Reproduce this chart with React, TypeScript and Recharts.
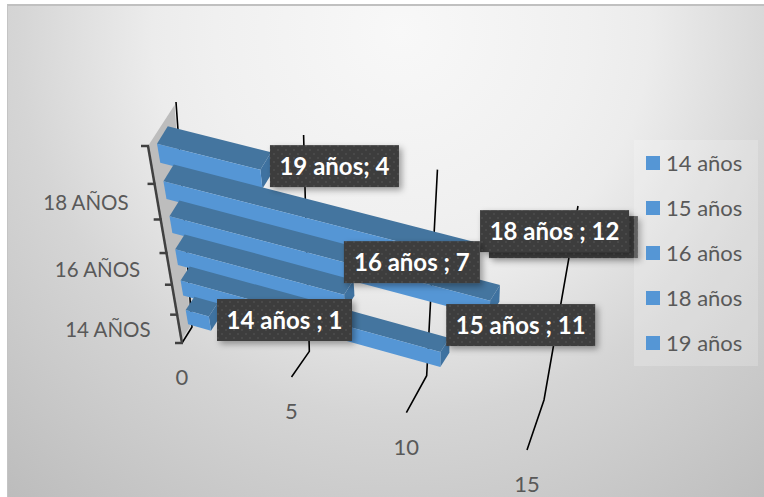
import React from 'react';
import { Bar, BarChart, CartesianGrid, LabelList, Legend, XAxis, YAxis } from 'recharts';

const ageGroups = ['19 años', '18 años', '17 años', '16 años', '15 años', '14 años'];
const counts = [4, 12, 13, 7, 11, 1];
const labelSeparators = ['; ', ' ; ', ' ; ', ' ; ', ' ; ', ' ; '];
const valueTicks = [0, 5, 10, 15];
const ageTicks = ['18 años', '16 años', '14 años'];
const legendNames = ['14 años', '15 años', '16 años', '18 años', '19 años'];

const data = ageGroups.map((age, i) => ({ age, count: counts[i] }));

const WIDTH = 764;
const HEIGHT = 497;
// the axes keep one pixel each, the plot fills the rest
const PLOT_LEFT = 1;
const PLOT_W = WIDTH - 1;
const PLOT_H = HEIGHT - 1;
const MAX_VALUE = 15;
const FONT = 'Lato, "Open Sans", sans-serif';

const lerp = (a: number, b: number, t: number) => a + (b - a) * t;
const lerpPt = (a: number[], b: number[], t: number) => [lerp(a[0], b[0], t), lerp(a[1], b[1], t)];

// perspective along the category axis, the rows get narrower towards the bottom
const axisT = (v: number) => (v * 1.19) / (1 + 0.19 * v);
const axisPoint = (py: number) => lerpPt([148, 146], [182, 343], axisT(py / PLOT_H));

// plot pixels -> front plane of the 3D bars
const project = (px: number, py: number) => {
  const t = axisT(py / PLOT_H);
  const [ax, ay] = axisPoint(py);
  const value = ((px - PLOT_LEFT) / PLOT_W) * MAX_VALUE;
  return [ax + 7.3 + value * (26 - 3.2 * t), ay - 12 + value * 6.5];
};

const depthAt = (py: number) => lerpPt([11, -18], [8.5, -13], axisT(py / PLOT_H));

const poly = (pts: number[][]) => pts.map((p) => p.join(',')).join(' ');

const Bar3D = ({ x, y, width, height }: any) => {
  const d = depthAt(y + height / 2);
  const back = (p: number[]) => [p[0] + d[0], p[1] + d[1]];
  const tl = project(x, y);
  const tr = project(x + width, y);
  const bl = project(x, y + height);
  const br = project(x + width, y + height);
  return (
    <g>
      <polygon points={poly([tl, tr, back(tr), back(tl)])} fill="#44759f" />
      <polygon points={poly([tr, br, back(br), back(tr)])} fill="#3f72a0" />
      <polygon points={poly([tl, tr, br, bl])} fill="#5596d5" />
    </g>
  );
};

const valueFrontPoint = (px: number) => {
  const u = (px - PLOT_LEFT) / PLOT_W;
  return lerpPt([182, 343], [527, 450], (u * 0.93) / (1 - 0.07 * u));
};

// each value line runs along the floor, then up the back wall
const ValueLine = ({ x1 }: any) => {
  const u = (x1 - PLOT_LEFT) / PLOT_W;
  const s = (u * 0.93) / (1 - 0.07 * u);
  const floor = lerpPt([192, 327], [544, 400], u);
  const top = lerpPt([176, 102], [578, 206], s);
  return (
    <polyline
      key={x1}
      points={poly([valueFrontPoint(x1), floor, top])}
      fill="none"
      stroke="#000"
      strokeWidth={1.6}
    />
  );
};

const ValueTick = ({ x, payload }: any) => {
  const front = valueFrontPoint(x);
  return (
    <text x={front[0]} y={front[1] + 42} textAnchor="middle" fontSize={22} fontFamily={FONT} fill="#595959">
      {payload.value}
    </text>
  );
};

const AgeTick = ({ y, payload }: any) => {
  const [ax, ay] = axisPoint(y);
  return (
    <text x={ax - 29} y={ay + 8} textAnchor="end" fontSize={20.5} fontFamily={FONT} fill="#595959">
      {payload.value.toUpperCase()}
    </text>
  );
};

const AxisFrame = () => {
  const bandEdges = ageGroups.map((_, i) => (i * PLOT_H) / ageGroups.length).concat(PLOT_H);
  const first = axisPoint(0);
  const last = axisPoint(PLOT_H);
  return (
    <g>
      {/* side wall, pulled in a little so the zero line stays visible along its edge */}
      <polygon points={poly([first, [174.6, 105], [190.4, 326], [180.5, 341]])} fill="#bdbdbd" />
      <line x1={first[0]} y1={first[1]} x2={last[0]} y2={last[1]} stroke="#404040" strokeWidth={2.5} />
      {bandEdges.map((py) => {
        const [ax, ay] = axisPoint(py);
        return <line key={py} x1={ax - 7} y1={ay} x2={ax + 1} y2={ay} stroke="#404040" strokeWidth={2.5} />;
      })}
    </g>
  );
};

// label box relative to the bar end: dx, dy, box width
const labelBoxes: Record<string, number[]> = {
  '19 años': [9.6, -24.7, 129],
  '18 años': [13.8, -49, 149],
  '17 años': [-1.2, -84.6, 149],
  '16 años': [-0.2, -53.6, 136],
  '15 años': [5.8, -47.9, 149],
  '14 años': [8.2, -17.5, 135],
};

const renderLabels = (rows: string[], withText: boolean) => (props: any) => {
  const { x, y, width, index } = props;
  const age = ageGroups[index];
  if (!rows.includes(age)) return null;
  const [ex, ey] = project(x + width, y);
  const [dx, dy, w] = labelBoxes[age];
  return (
    <g>
      <rect x={ex + dx} y={ey + dy} width={w} height={42} fill="url(#labelDots)" filter="url(#labelShadow)" />
      {withText && (
        <text
          x={ex + dx + w / 2}
          y={ey + dy + 30}
          textAnchor="middle"
          fontSize={24}
          fontWeight={700}
          fontFamily={FONT}
          fill="#fff"
        >
          {`${age}${labelSeparators[index]}${counts[index]}`}
        </text>
      )}
    </g>
  );
};

const LegendPanel = () => (
  <div style={{ width: 124, height: 226, background: 'rgba(255,255,255,0.2)' }}>
    {legendNames.map((name) => (
      <div key={name} style={{ display: 'flex', alignItems: 'center', height: 45, paddingLeft: 12 }}>
        <span style={{ width: 14, height: 14, background: '#5596d5', marginRight: 6 }} />
        <span style={{ fontSize: 22, fontFamily: FONT, color: '#595959' }}>{name}</span>
      </div>
    ))}
  </div>
);

export default function App() {
  return (
    <div style={{ position: 'absolute', left: 0, top: 0, width: WIDTH, height: HEIGHT }}>
      <div
        style={{
          position: 'absolute',
          left: 7,
          top: 4,
          right: 0,
          bottom: 0,
          background:
            'radial-gradient(circle 620px at 393px 26px, #f8f8f8 0%, #f0f0f0 30%, #ececec 40%, #d5d5d5 62%, #bbbbbb 100%)',
          borderTop: '2px solid #c0c0c0',
          borderLeft: '1px solid #c4c4c4',
        }}
      />
      <BarChart
        width={WIDTH}
        height={HEIGHT}
        data={data}
        layout="vertical"
        barSize={PLOT_H / ageGroups.length / 2}
        margin={{ top: 0, right: 0, bottom: 0, left: 0 }}
        style={{ position: 'absolute', left: 0, top: 0 }}
      >
        <defs>
          <pattern id="labelDots" width={8} height={8} patternUnits="userSpaceOnUse">
            <rect width={8} height={8} fill="#3e3e3e" />
            <circle cx={2} cy={2} r={1} fill="#4c4c4c" />
            <circle cx={6} cy={6} r={1} fill="#4c4c4c" />
          </pattern>
          <filter id="labelShadow" x="-10%" y="-20%" width="125%" height="150%">
            <feDropShadow dx={3} dy={3} stdDeviation={3} floodColor="#000" floodOpacity={0.35} />
          </filter>
        </defs>
        <AxisFrame />
        <CartesianGrid horizontal={false} vertical={ValueLine} syncWithTicks />
        <XAxis
          type="number"
          domain={[0, MAX_VALUE]}
          ticks={valueTicks}
          interval={0}
          height={1}
          axisLine={false}
          tickLine={false}
          tick={ValueTick}
        />
        <YAxis
          type="category"
          dataKey="age"
          ticks={ageTicks}
          interval={0}
          width={1}
          axisLine={false}
          tickLine={false}
          tick={AgeTick}
        />
        <Legend
          layout="horizontal"
          verticalAlign="middle"
          align="center"
          content={LegendPanel}
          wrapperStyle={{ position: 'absolute', left: 634, top: 140, width: 124 }}
        />
        <Bar dataKey="count" shape={Bar3D} isAnimationActive={false}>
          {/* the 17 años box sits fully behind its neighbours, only its edge shows */}
          <LabelList dataKey="count" content={renderLabels(['17 años'], false)} />
          <LabelList
            dataKey="count"
            content={renderLabels(ageGroups.filter((age) => age !== '17 años'), true)}
          />
        </Bar>
      </BarChart>
    </div>
  );
}
